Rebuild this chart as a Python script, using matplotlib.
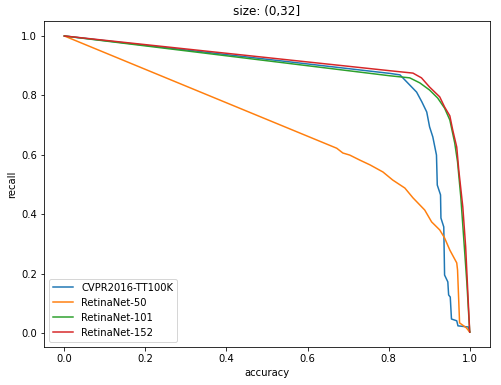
import numpy as np
import matplotlib
matplotlib.use("Agg")
import matplotlib.pyplot as plt

# precision/recall style curves
cvpr_x = [0.0, 0.803, 0.828, 0.835, 0.852, 0.869, 0.882, 0.894, 0.901, 0.909, 0.918,
          0.920, 0.928, 0.929, 0.936, 0.938, 0.946, 0.948, 0.952, 0.955, 0.968,
          0.971, 0.997, 1.0]
cvpr_y = [1.0, 0.874, 0.869, 0.859, 0.835, 0.811, 0.778, 0.744, 0.694, 0.660, 0.599,
          0.498, 0.465, 0.387, 0.357, 0.195, 0.172, 0.128, 0.121, 0.047, 0.041,
          0.024, 0.020, 0.003]

r50_x = [0.0, 0.672, 0.687, 0.704, 0.729, 0.754, 0.786, 0.810, 0.840, 0.860, 0.889,
         0.906, 0.926, 0.938, 0.951, 0.968, 0.970, 0.975, 0.992, 1.0]
r50_y = [1.0, 0.622, 0.606, 0.599, 0.582, 0.566, 0.542, 0.515, 0.488, 0.455, 0.414,
         0.374, 0.347, 0.320, 0.279, 0.236, 0.212, 0.034, 0.017, 0.003]

r101_x = [0.0, 0.803, 0.852, 0.877, 0.901, 0.921, 0.938, 0.951, 0.963, 0.970, 0.978,
          0.985, 0.993, 1.0]
r101_y = [1.0, 0.866, 0.859, 0.842, 0.818, 0.791, 0.757, 0.717, 0.640, 0.576, 0.458,
          0.323, 0.168, 0.003]

r152_x = [0.0, 0.803, 0.860, 0.881, 0.901, 0.926, 0.938, 0.951, 0.958, 0.968, 0.973,
          0.983, 0.990, 1.0]
r152_y = [1.0, 0.883, 0.875, 0.859, 0.828, 0.795, 0.761, 0.731, 0.684, 0.626, 0.549,
          0.424, 0.290, 0.003]

fig = plt.figure(figsize=(501/72, 385/72), dpi=72)
ax = fig.add_axes([0.088, 0.099, 0.89, 0.846])

ax.plot(cvpr_x, cvpr_y, label="CVPR2016-TT100K")
ax.plot(r50_x, r50_y, label="RetinaNet-50")
ax.plot(r101_x, r101_y, label="RetinaNet-101")
ax.plot(r152_x, r152_y, label="RetinaNet-152")

ax.set_xlabel("accuracy")
ax.set_ylabel("recall")
ax.set_title("size: (0,32]")
ax.legend(loc="lower left")

plt.savefig("out.png", dpi=72)
